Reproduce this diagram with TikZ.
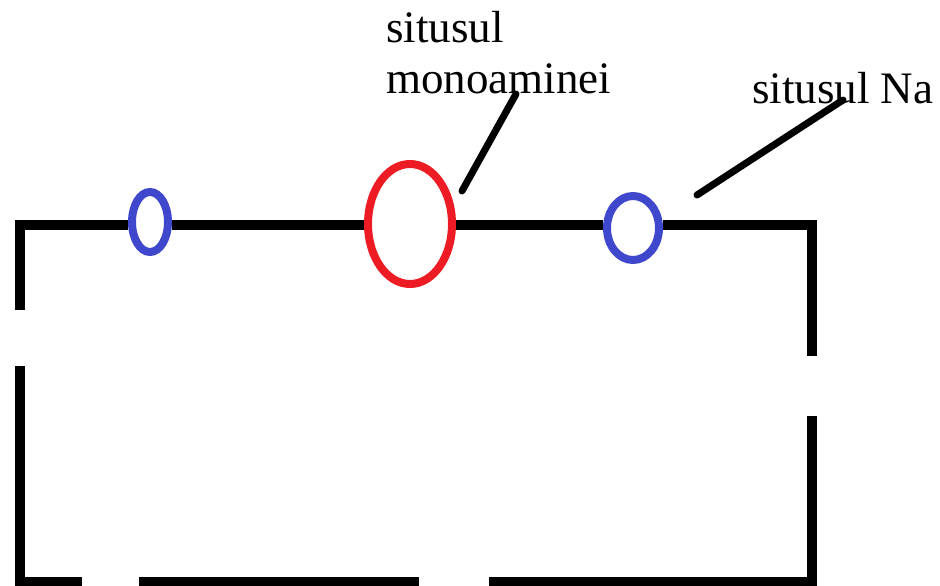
\documentclass[tikz,border=0pt]{standalone}
\usepackage{fontspec}
\setmainfont{Liberation Serif}
\usetikzlibrary{shapes.geometric}
\definecolor{pred}{RGB}{237,28,36}
\definecolor{pblue}{RGB}{63,72,204}
\begin{document}
\begin{tikzpicture}[x=1pt,y=-1pt,
  wall/.style={line width=9.5pt, line cap=butt, line join=miter},
  site/.style={ellipse, draw, line width=8pt, inner sep=0pt, outer sep=4pt},
  leader/.style={line width=7pt, line cap=round},
  lbl/.style={font=\fontsize{45}{51}\selectfont, inner sep=0pt, anchor=base west}]
\useasboundingbox (0,0) rectangle (940,586);
% sites
\node[site, pblue, minimum width=36pt, minimum height=60pt] (b1) at (150,222) {};
\node[site, pred, minimum width=84pt, minimum height=120pt] (r) at (410,224) {};
\node[site, pblue, minimum width=52pt, minimum height=64pt] (b2) at (633,228) {};
% frame corners and gap ends
\coordinate (tl) at (20,225);
\coordinate (tr) at (812,225);
\coordinate (bl) at (20,581.5);
\coordinate (br) at (812,581.5);
\coordinate (lgapT) at (20,310);
\coordinate (lgapB) at (20,366);
\coordinate (rgapT) at (812,356);
\coordinate (rgapB) at (812,416);
\coordinate (bgap1L) at (82,581.5);
\coordinate (bgap1R) at (139,581.5);
\coordinate (bgap2L) at (419,581.5);
\coordinate (bgap2R) at (489,581.5);
\draw[wall] (lgapT) -- (tl) -- (b1.west |- tl);
\draw[wall] (b1.east |- tl) -- (r.west |- tl);
\draw[wall] (r.east |- tl) -- (b2.west |- tl);
\draw[wall] (b2.east |- tl) -- (tr) -- (rgapT);
\draw[wall] (lgapB) -- (bl) -- (bgap1L);
\draw[wall] (bgap1R) -- (bgap2L);
\draw[wall] (bgap2R) -- (br) -- (rgapB);
% labels
\node[lbl] (t1) at (386,43) {situsul};
\node[lbl] (t2) at (386,94) {monoaminei};
\node[lbl] (t3) at (752,103) {situsul Na};
% leaders
\coordinate (mA) at (462,191);
\coordinate (mB) at (516,94);
\coordinate (nA) at (697,195);
\coordinate (nB) at (843,100);
\draw[leader] (mA) -- (mB);
\draw[leader] (nA) -- (nB);
\end{tikzpicture}
\end{document}
